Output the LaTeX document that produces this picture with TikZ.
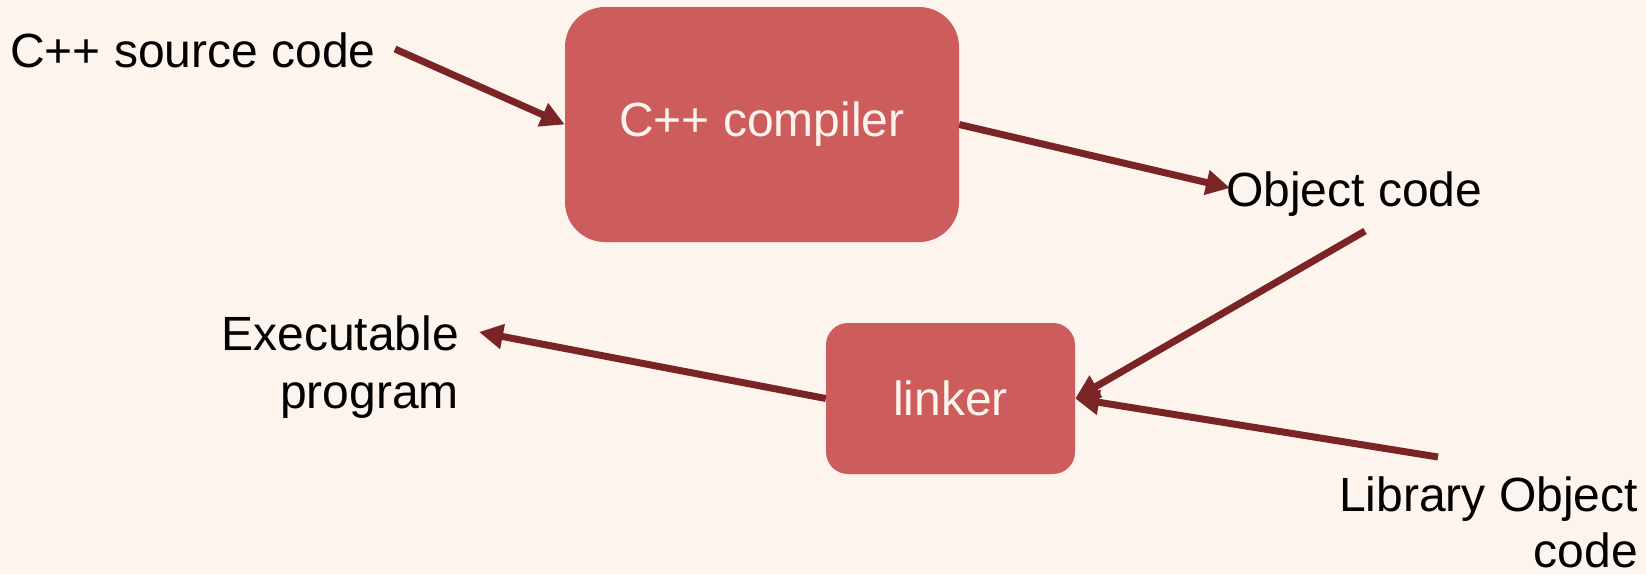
\documentclass[tikz,border=0pt]{standalone}
\usepackage{fontspec}
\setmainfont{Liberation Sans}
\usetikzlibrary{arrows.meta}
\definecolor{bgc}{HTML}{FEF4EE}
\definecolor{boxc}{HTML}{CD5C5C}
\definecolor{arrc}{HTML}{7A2426}
\tikzset{
  procbox/.style={fill=boxc, draw=none, text=bgc, inner sep=0pt},
  lbl/.style={text=black, inner sep=0pt},
  conn/.style={draw=arrc, line width=7pt, -{Triangle[length=24pt,width=24pt]}, shorten >=0pt},
}
\begin{document}
\begin{tikzpicture}[x=1pt,y=-1pt,font=\fontsize{48}{58}\selectfont]
\fill[bgc] (0,0) rectangle (1646,574);
\useasboundingbox (0,0) rectangle (1646,574);
\node[procbox, rounded corners=40pt, minimum width=394pt, minimum height=235pt] (comp) at (762,124.5) {C++ compiler};
\node[procbox, rounded corners=22pt, minimum width=249pt, minimum height=151pt] (link) at (950.5,398.5) {linker};
\node[lbl, anchor=west] (src) at (10,50) {C++ source code};
\node[lbl, anchor=west] (obj) at (1226,194) {Object code};
\node[lbl, anchor=east, align=right] (exe) at (459,367) {Executable\\program};
\node[lbl, anchor=east, align=right, font=\fontsize{48}{56}\selectfont] (lib) at (1638,522) {Library Object\\code};
\coordinate (srcout) at (395,49);
\coordinate (objin) at (1230,188);
\coordinate (objout) at (1365,231);
\coordinate (libout) at (1438,457);
\coordinate (exein) at (479,332);
\draw[conn] (srcout) -- (comp.west);
\draw[conn] (comp.east) -- (objin);
\draw[conn] (objout) -- (link.east);
\draw[conn] (libout) -- (link.east);
\draw[conn] (link.west) -- (exein);
\end{tikzpicture}
\end{document}
